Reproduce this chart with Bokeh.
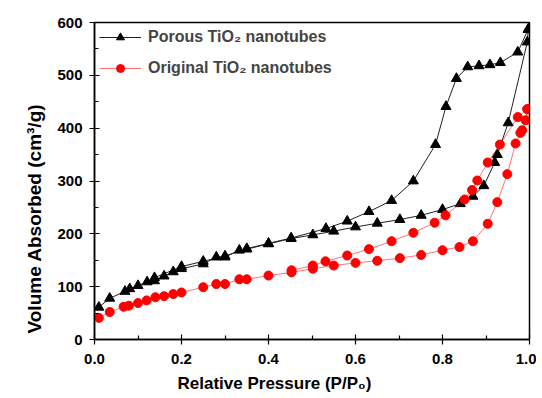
from bokeh.plotting import figure
from bokeh.models import Legend, LegendItem, FixedTicker, Range1d, Title
from bokeh.embed import file_html
from bokeh.resources import INLINE

# Porous TiO2 nanotubes (black triangles)
por_ads_p = [0.01, 0.035, 0.07, 0.081, 0.10, 0.121, 0.138, 0.16, 0.181, 0.20, 0.25, 0.28, 0.30, 0.333, 0.35, 0.40,
             0.452, 0.502, 0.55, 0.60, 0.65, 0.702, 0.751, 0.80, 0.841, 0.87, 0.895, 0.92, 0.926, 0.951, 0.995, 0.997]
por_ads_v = [61, 78, 91, 96, 102, 109, 111, 120, 128, 134, 143, 156, 156, 169, 171, 181,
             191, 198, 205, 213, 220, 227, 235, 246, 257, 271, 291, 335, 350, 410, 563, 587]
por_des_p = [0.997, 0.973, 0.933, 0.909, 0.884, 0.858, 0.832, 0.808, 0.784, 0.733, 0.683, 0.631, 0.581, 0.532,
             0.452, 0.40, 0.35, 0.30, 0.25, 0.20, 0.138]
por_des_v = [587, 544, 524, 520, 518, 516, 494, 441, 369, 300, 263, 242, 224, 210,
             192, 182, 172, 158, 148, 138, 117]

# Original TiO2 nanotubes (red circles)
ori_ads_p = [0.01, 0.035, 0.067, 0.079, 0.10, 0.12, 0.14, 0.16, 0.181, 0.20, 0.25, 0.28, 0.30, 0.333, 0.35, 0.40,
             0.453, 0.502, 0.55, 0.60, 0.65, 0.702, 0.751, 0.80, 0.839, 0.87, 0.904, 0.926, 0.949, 0.968, 0.979,
             0.983, 0.991, 0.995]
ori_ads_v = [41, 52, 62, 64, 69, 74, 80, 82, 86, 89, 99, 105, 105, 114, 114, 121,
             127, 134, 140, 145, 149, 154, 160, 169, 175, 186, 219, 260, 313, 371, 391,
             396, 415, 436]
ori_des_p = [0.995, 0.973, 0.932, 0.904, 0.88, 0.868, 0.851, 0.807, 0.782, 0.733, 0.683, 0.631, 0.581, 0.531,
             0.502, 0.453]
ori_des_v = [436, 421, 369, 335, 301, 283, 265, 235, 221, 202, 186, 171, 159, 148,
             140, 131]

x_ticks = [0.0, 0.2, 0.4, 0.6, 0.8, 1.0]
x_minor = [0.1, 0.3, 0.5, 0.7, 0.9]
y_ticks = [0, 100, 200, 300, 400, 500, 600]
y_minor = [50, 150, 250, 350, 450, 550]

p = figure(width=536, height=398, output_backend="svg", toolbar_location=None,
           x_range=Range1d(0, 1.0), y_range=Range1d(0, 600),
           min_border_left=94, min_border_right=7, min_border_top=22, min_border_bottom=59)
p.grid.visible = False
p.outline_line_color = "black"
p.outline_line_width = 1.5
p.background_fill_color = "white"
p.border_fill_color = "white"

blk = "#000000"
red = "#ff0000"

l1 = p.line(por_ads_p, por_ads_v, line_color="#222222", line_width=1)
l2 = p.line(por_des_p, por_des_v, line_color="#222222", line_width=1)
m1 = p.scatter(por_ads_p, por_ads_v, marker="triangle", size=10, fill_color=blk, line_color=blk)
m2 = p.scatter(por_des_p, por_des_v, marker="triangle", size=10, fill_color=blk, line_color=blk)

l3 = p.line(ori_ads_p, ori_ads_v, line_color=red, line_alpha=0.55, line_width=1)
l4 = p.line(ori_des_p, ori_des_v, line_color=red, line_alpha=0.55, line_width=1)
m3 = p.scatter(ori_ads_p, ori_ads_v, marker="circle", size=9, fill_color=red, line_color=red)
m4 = p.scatter(ori_des_p, ori_des_v, marker="circle", size=9, fill_color=red, line_color=red)

legend = Legend(items=[
    LegendItem(label="Porous TiO\u2082 nanotubes", renderers=[l1, m1]),
    LegendItem(label="Original TiO\u2082 nanotubes", renderers=[l3, m3]),
], location="top_left")
legend.border_line_color = None
legend.background_fill_alpha = 0
legend.label_text_font = "Liberation Sans"
legend.label_text_font_style = "bold"
legend.label_text_font_size = "16px"
legend.glyph_width = 42
legend.glyph_height = 20
legend.label_standoff = 7
legend.spacing = 11
legend.margin = 5
legend.padding = 2
p.add_layout(legend)

for ax in (p.xaxis[0], p.yaxis[0]):
    ax.axis_line_width = 1.5
    ax.major_tick_in = 5
    ax.major_tick_out = 5
    ax.minor_tick_in = 4
    ax.minor_tick_out = 0
    ax.major_tick_line_width = 1.2
    ax.minor_tick_line_width = 1.2
    ax.major_label_text_font = "Liberation Sans"
    ax.major_label_text_font_style = "bold"
    ax.major_label_text_font_size = "15px"
    ax.major_label_text_color = "black"

p.xaxis[0].ticker = FixedTicker(ticks=x_ticks, minor_ticks=x_minor)
p.yaxis[0].ticker = FixedTicker(ticks=y_ticks, minor_ticks=y_minor)
p.xaxis[0].major_label_standoff = 9
p.yaxis[0].major_label_standoff = 7
p.xaxis.major_label_overrides = {0: "0.0", 1: "1.0"}

xt = Title(text="Relative Pressure (P/P\u2080)", align="left", offset=83,
           text_font="Liberation Sans", text_font_style="bold", text_font_size="17px",
           text_color="black", standoff=10)
p.add_layout(xt, "below")
yt = Title(text="Volume Absorbed (cm\u00b3/g)", align="left", offset=6,
           text_font="Liberation Sans", text_font_style="bold", text_font_size="19px",
           text_color="black", standoff=20)
p.add_layout(yt, "left")

open("out.html", "w").write(file_html(p, INLINE))
